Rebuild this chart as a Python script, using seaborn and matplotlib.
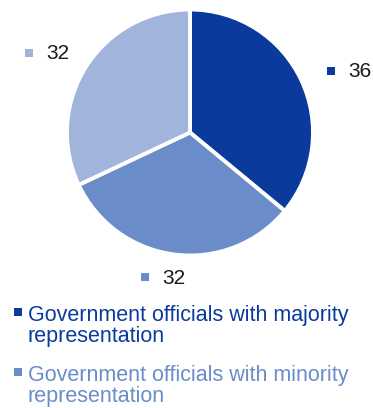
import numpy as np
import matplotlib
matplotlib.use("Agg")
import matplotlib.pyplot as plt
from matplotlib.lines import Line2D
import seaborn as sns

sns.set_theme(style="white")
plt.rcParams["font.family"] = ["Liberation Sans", "DejaVu Sans"]

categories = [
    ["Government officials with majority", "representation"],
    ["Government officials with minority", "representation"],
    ["Other officials"],
]
values = [36, 32, 32]
colors = ["#0a3a9c", "#6a8cc8", "#a0b4dc"]
# radial distance and angular nudge (deg) of each value label
label_radius = [1.25, 1.23, 1.46]
label_nudge = [-1.6, -10.0, 6.0]

W, H = 373, 408
fig = plt.figure(figsize=(W / 100, H / 100), dpi=100)
cx, cy, r = 190, 132.5, 123
ax = fig.add_axes([(cx - r) / W, (H - cy - r) / H, 2 * r / W, 2 * r / H])

wedges, _ = ax.pie(values, colors=colors, startangle=90, counterclock=False,
                   wedgeprops=dict(edgecolor="white", linewidth=2.8))
ax.set_xlim(-1, 1)
ax.set_ylim(-1, 1)
ax.set_aspect("equal")
ax.axis("off")

# value labels with a small coloured square
total = sum(values)
start = 90.0
for v, c, rad, nd in zip(values, colors, label_radius, label_nudge):
    sweep = v / total * 360
    mid = np.deg2rad(start - sweep / 2 + nd)
    start -= sweep
    x, y = rad * np.cos(mid), rad * np.sin(mid)
    ax.plot([x], [y], marker="s", color=c, markersize=5.5, markeredgewidth=0,
            clip_on=False)
    ax.text(x + 17 / r, y - 1 / r, str(v), ha="left", va="center",
            fontsize=15, color="#1a1a1a", clip_on=False)

# legend drawn as rows of text with a square key
legend_marker_y = [311.5, 371.5]
line_pitch = 21
for lines, c, my in zip(categories[:2], colors[:2], legend_marker_y):
    fig.add_artist(Line2D([18 / W], [1 - my / H], marker="s", color=c,
                          markersize=5.5, markeredgewidth=0,
                          transform=fig.transFigure))
    for i, line in enumerate(lines):
        base = my + 9.5 + i * line_pitch
        fig.text(28 / W, 1 - base / H, line, color=c, fontsize=15.5,
                 ha="left", va="baseline")

fig.savefig("out.png", dpi=100)
